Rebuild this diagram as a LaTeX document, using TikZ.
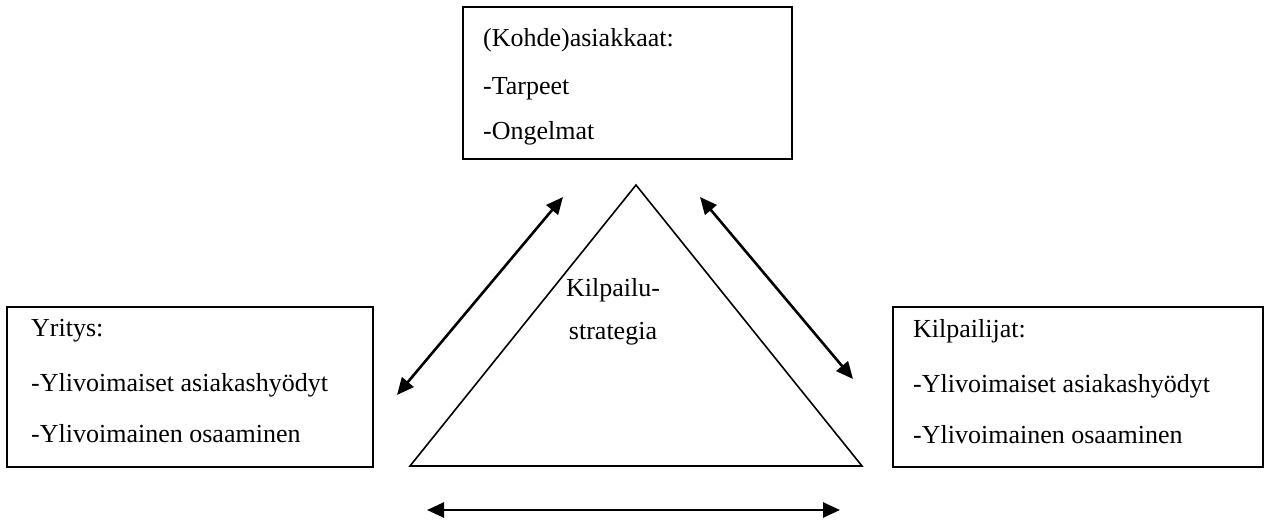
\documentclass[tikz,border=0pt]{standalone}
\usepackage{fontspec}
\setmainfont{Liberation Serif}
\usetikzlibrary{arrows.meta}
\begin{document}
\begin{tikzpicture}[x=1pt,y=-1pt,
  infobox/.style={draw=black, line width=2pt, rectangle, inner sep=0pt, anchor=north west},
  boxtext/.style={anchor=north west, inner sep=0pt, align=left, font=\fontsize{26}{30}\selectfont},
  centertext/.style={inner sep=0pt, align=center, font=\fontsize{26}{30}\selectfont},
  twoway/.style={line width=2.6pt, {Triangle[length=17pt,width=15pt]}-{Triangle[length=17pt,width=15pt]}},
  outline/.style={line width=1.6pt, line join=miter}]
\useasboundingbox (0,0) rectangle (1270,520);

% information boxes
\node[infobox, minimum width=329pt, minimum height=152pt] (asiakkaat) at (462,6) {};
\node[infobox, minimum width=366pt, minimum height=160pt] (yritys) at (6,306) {};
\node[infobox, minimum width=370pt, minimum height=160pt] (kilpailijat) at (892,306) {};

\node[boxtext] (asiakkaatTxt) at ([shift={(21,22)}]asiakkaat.north west)
  {(Kohde)asiakkaat:\\[18pt]-Tarpeet\\[15pt]-Ongelmat};
\node[boxtext] (yritysTxt) at ([shift={(25,13)}]yritys.north west)
  {Yritys:\\[25pt]-Ylivoimaiset asiakashyödyt\\[21pt]-Ylivoimainen osaaminen};
\node[boxtext] (kilpailijatTxt) at ([shift={(21,13)}]kilpailijat.north west)
  {Kilpailijat:\\[25pt]-Ylivoimaiset asiakashyödyt\\[21pt]-Ylivoimainen osaaminen};

% strategy triangle
\coordinate (apex) at (636,185);
\coordinate (baseL) at (410,466);
\coordinate (baseR) at (862,466);
\draw[outline] (apex) -- (baseL) -- (baseR) -- cycle;
\node[centertext] (strategia) at (613,312) {Kilpailu-\\[13pt]strategia};

% two-way relations
\coordinate (lA) at (397,395);
\coordinate (lB) at (563,197);
\coordinate (rA) at (700,197);
\coordinate (rB) at (853,379);
\coordinate (bA) at (427,510);
\coordinate (bB) at (840,510);
\draw[twoway] (lA) -- (lB);
\draw[twoway] (rA) -- (rB);
\draw[twoway] (bA) -- (bB);
\end{tikzpicture}
\end{document}
